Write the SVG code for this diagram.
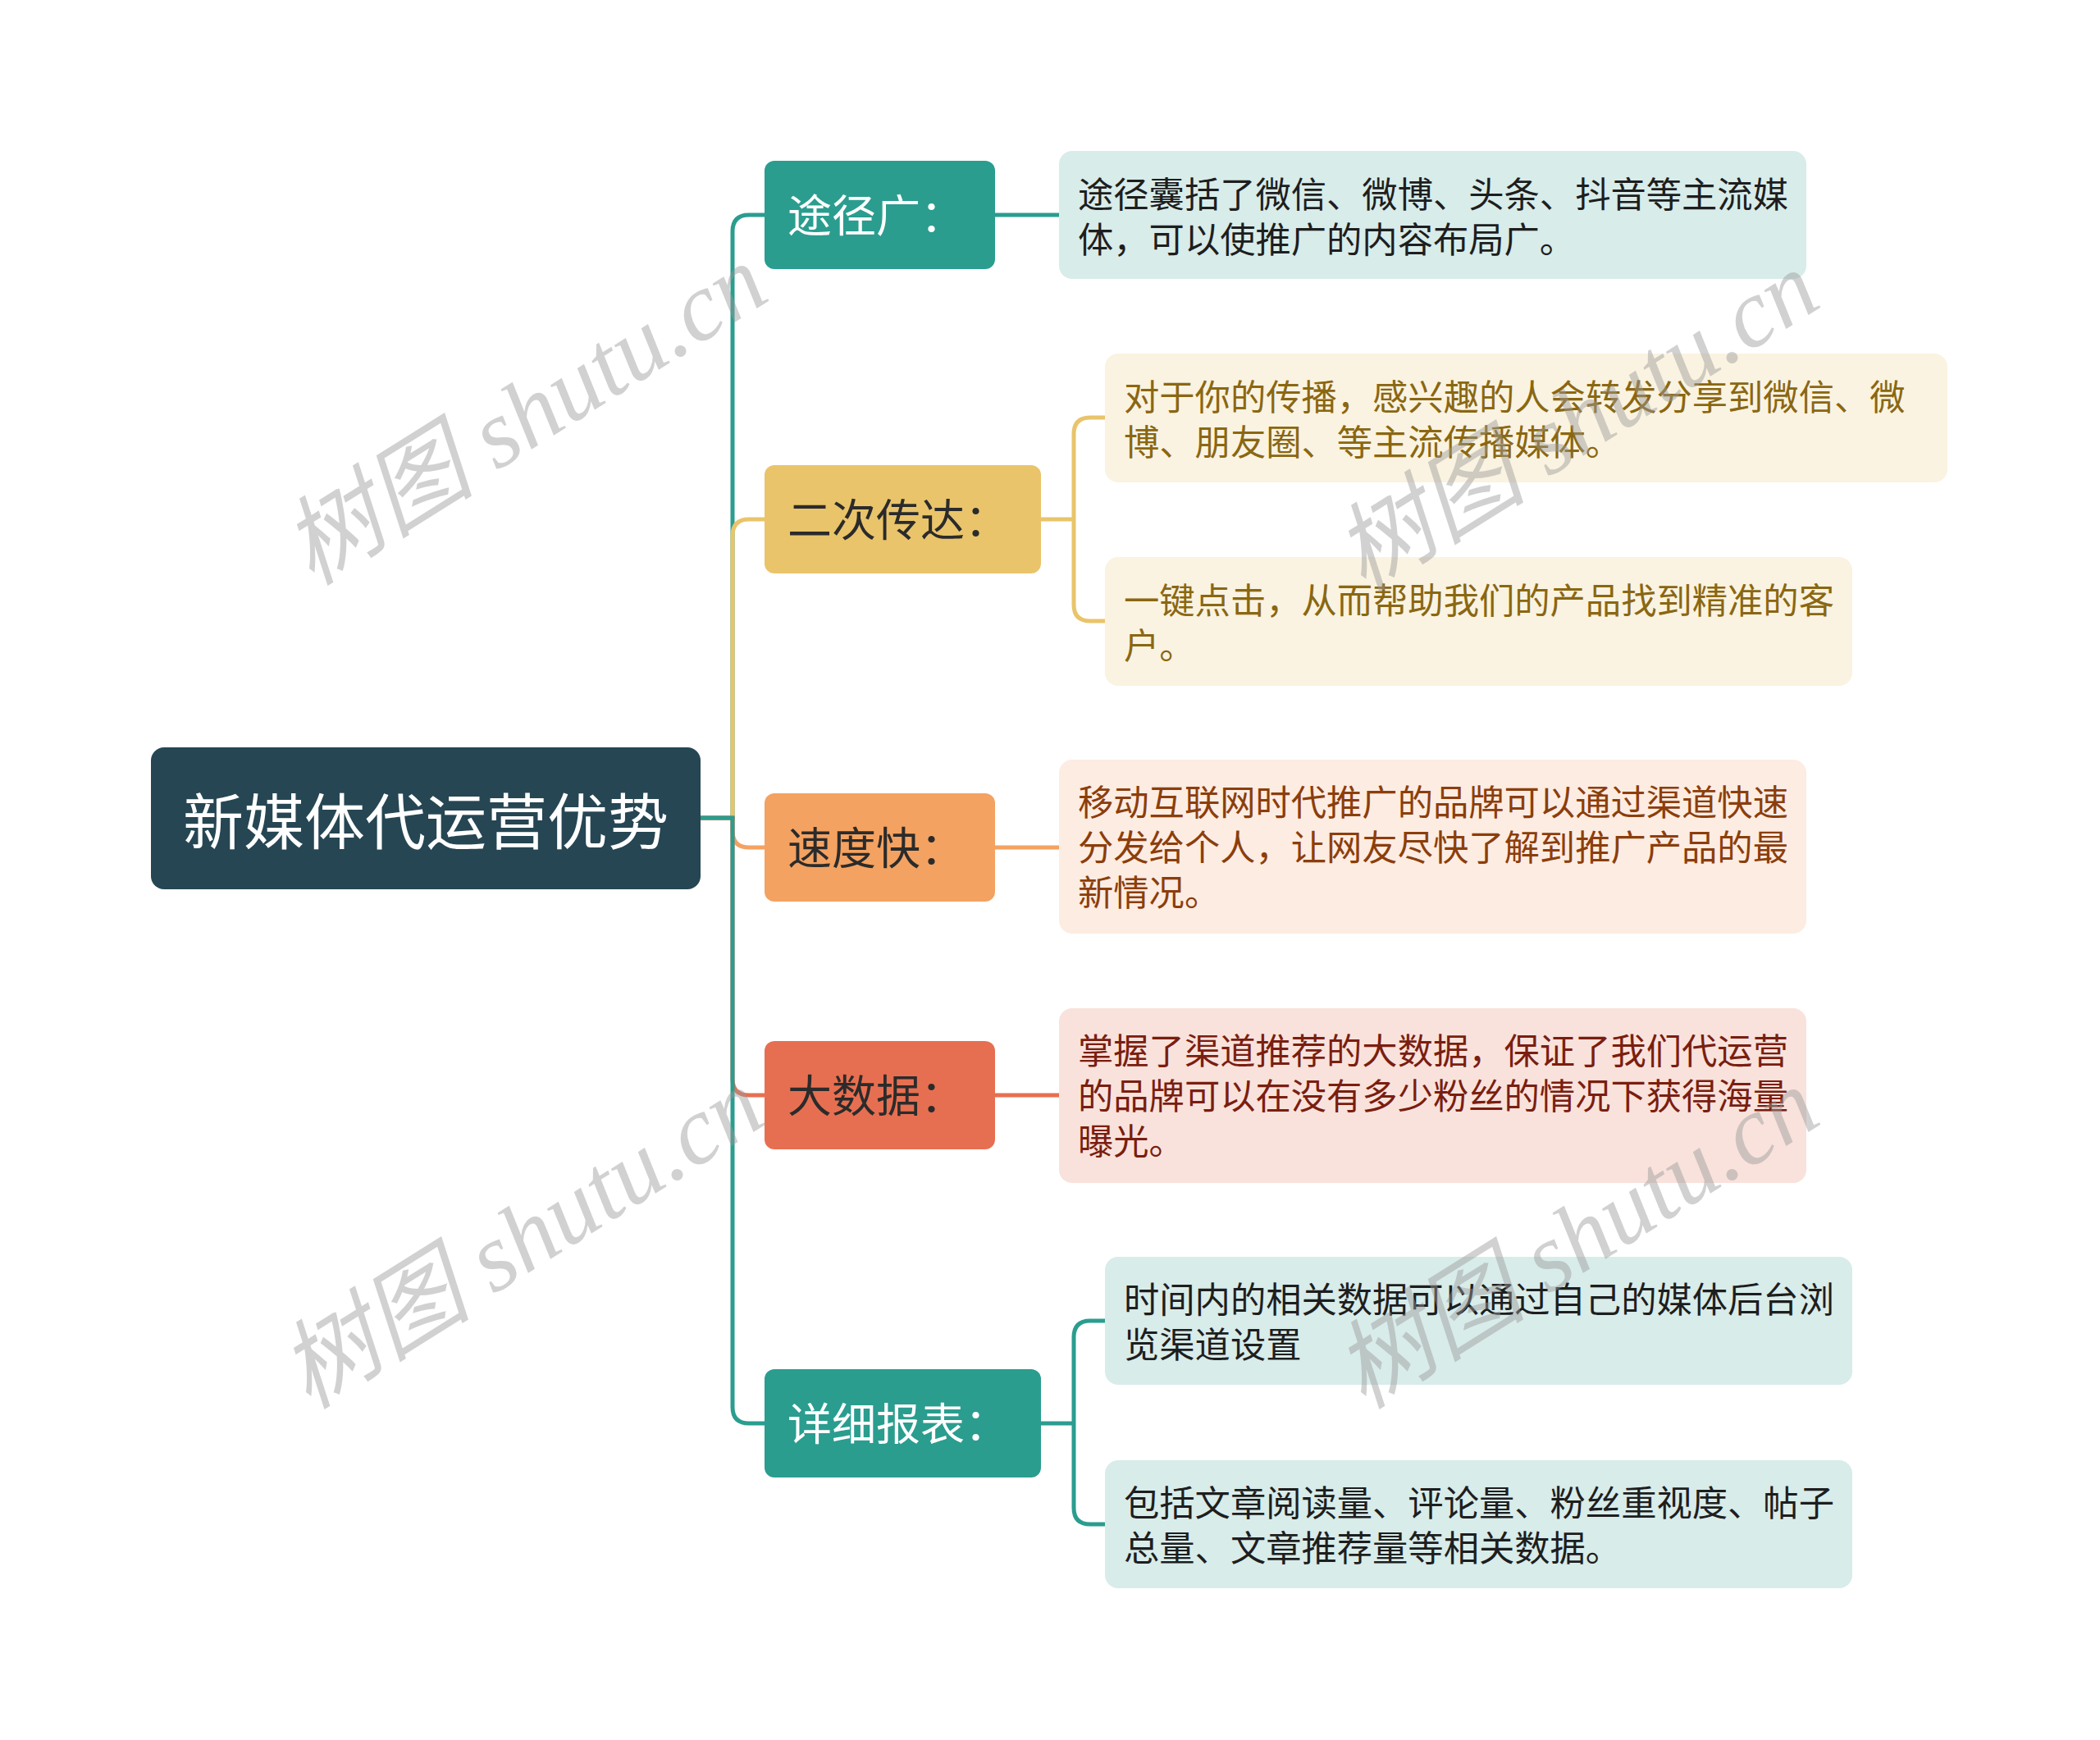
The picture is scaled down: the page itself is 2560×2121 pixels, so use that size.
<svg xmlns="http://www.w3.org/2000/svg" width="2560" height="2121" viewBox="0 0 2560 2121">
<style>
.t{font-family:"Noto Sans CJK SC","Noto Sans",sans-serif;}
.root{font-size:74px;fill:#ffffff;}
.br{font-size:54px;}
.lf{font-size:43.3px;}
.c{fill:none;stroke-width:5;stroke-linecap:round;}
.wm{font-family:"Liberation Serif","Noto Sans CJK SC",serif;font-style:italic;font-size:118px;fill:#9a9a9a;opacity:0.45;}
</style>
<rect width="2560" height="2121" fill="#ffffff"/>
<g id="connectors">
<path class="c" stroke="#2a9d8f" d="M854,997 H893 V282 Q893,262 913,262 H932"/>
<path class="c" stroke="#e9c46a" d="M854,997 H893 V653 Q893,633 913,633 H932"/>
<path class="c" stroke="#f4a261" d="M854,997 H893 V1013 Q893,1033 913,1033 H932"/>
<path class="c" stroke="#e76f51" d="M854,997 H893 V1315 Q893,1335 913,1335 H932"/>
<path class="c" stroke="#2a9d8f" d="M854,997 H893 V1715 Q893,1735 913,1735 H932"/>
<path class="c" stroke="#2a9d8f" d="M1213,262 H1291"/>
<path class="c" stroke="#e9c46a" d="M1269,633 H1309 M1309,633 V529 Q1309,509 1329,509 H1347 M1309,633 V737 Q1309,757 1329,757 H1347"/>
<path class="c" stroke="#f4a261" d="M1213,1033 H1291"/>
<path class="c" stroke="#e76f51" d="M1213,1335 H1291"/>
<path class="c" stroke="#2a9d8f" d="M1269,1735 H1309 M1309,1735 V1630 Q1309,1610 1329,1610 H1347 M1309,1735 V1838 Q1309,1858 1329,1858 H1347"/>
</g>
<g id="root">
<rect x="184" y="911" width="670" height="173" rx="16" fill="#264653"/>
<text class="t root" x="519" y="996" text-anchor="middle" dominant-baseline="central">新媒体代运营优势</text>
</g>
<g id="b1">
<rect x="932" y="196" width="281" height="132" rx="12" fill="#2a9d8f"/>
<text class="t br" x="960" y="259" dominant-baseline="central" fill="#ffffff">途径广：</text>
</g>
<g id="l1">
<rect x="1291" y="184" width="911" height="156" rx="16" fill="#d8ecea"/>
<text class="t lf" fill="#1e1e1e"><tspan x="1314" y="234" dominant-baseline="central">途径囊括了微信、微博、头条、抖音等主流媒</tspan><tspan x="1314" y="289" dominant-baseline="central">体，可以使推广的内容布局广。</tspan></text>
</g>
<g id="b2">
<rect x="932" y="567" width="337" height="132" rx="12" fill="#e9c46a"/>
<text class="t br" x="960" y="630" dominant-baseline="central" fill="#2b2b2b">二次传达：</text>
</g>
<g id="l2a">
<rect x="1347" y="431" width="1027" height="157" rx="16" fill="#faf3e1"/>
<text class="t lf" fill="#8a6712"><tspan x="1370" y="481" dominant-baseline="central">对于你的传播，感兴趣的人会转发分享到微信、微</tspan><tspan x="1370" y="536" dominant-baseline="central">博、朋友圈、等主流传播媒体。</tspan></text>
</g>
<g id="l2b">
<rect x="1347" y="679" width="911" height="157" rx="16" fill="#faf3e1"/>
<text class="t lf" fill="#8a6712"><tspan x="1370" y="729" dominant-baseline="central">一键点击，从而帮助我们的产品找到精准的客</tspan><tspan x="1370" y="784" dominant-baseline="central">户。</tspan></text>
</g>
<g id="b3">
<rect x="932" y="967" width="281" height="132" rx="12" fill="#f4a261"/>
<text class="t br" x="960" y="1030" dominant-baseline="central" fill="#2b2b2b">速度快：</text>
</g>
<g id="l3">
<rect x="1291" y="926" width="911" height="212" rx="16" fill="#fdece2"/>
<text class="t lf" fill="#8b3e0c"><tspan x="1314" y="975" dominant-baseline="central">移动互联网时代推广的品牌可以通过渠道快速</tspan><tspan x="1314" y="1030" dominant-baseline="central">分发给个人，让网友尽快了解到推广产品的最</tspan><tspan x="1314" y="1085" dominant-baseline="central">新情况。</tspan></text>
</g>
<g id="b4">
<rect x="932" y="1269" width="281" height="132" rx="12" fill="#e76f51"/>
<text class="t br" x="960" y="1332" dominant-baseline="central" fill="#2b2b2b">大数据：</text>
</g>
<g id="l4">
<rect x="1291" y="1229" width="911" height="213" rx="16" fill="#f9e2dc"/>
<text class="t lf" fill="#7a1e10"><tspan x="1314" y="1278" dominant-baseline="central">掌握了渠道推荐的大数据，保证了我们代运营</tspan><tspan x="1314" y="1333" dominant-baseline="central">的品牌可以在没有多少粉丝的情况下获得海量</tspan><tspan x="1314" y="1388" dominant-baseline="central">曝光。</tspan></text>
</g>
<g id="b5">
<rect x="932" y="1669" width="337" height="132" rx="12" fill="#2a9d8f"/>
<text class="t br" x="960" y="1732" dominant-baseline="central" fill="#ffffff">详细报表：</text>
</g>
<g id="l5a">
<rect x="1347" y="1532" width="911" height="156" rx="16" fill="#d8ecea"/>
<text class="t lf" fill="#1e1e1e"><tspan x="1370" y="1581" dominant-baseline="central">时间内的相关数据可以通过自己的媒体后台浏</tspan><tspan x="1370" y="1636" dominant-baseline="central">览渠道设置</tspan></text>
</g>
<g id="l5b">
<rect x="1347" y="1780" width="911" height="156" rx="16" fill="#d8ecea"/>
<text class="t lf" fill="#1e1e1e"><tspan x="1370" y="1829" dominant-baseline="central">包括文章阅读量、评论量、粉丝重视度、帖子</tspan><tspan x="1370" y="1884" dominant-baseline="central">总量、文章推荐量等相关数据。</tspan></text>
</g>
<g id="watermarks">
<text class="wm" transform="translate(640,506) rotate(-32)" text-anchor="middle" dominant-baseline="central">树图 shutu.cn</text>
<text class="wm" transform="translate(1922,514) rotate(-32)" text-anchor="middle" dominant-baseline="central">树图 shutu.cn</text>
<text class="wm" transform="translate(636,1510) rotate(-32)" text-anchor="middle" dominant-baseline="central">树图 shutu.cn</text>
<text class="wm" transform="translate(1922,1510) rotate(-32)" text-anchor="middle" dominant-baseline="central">树图 shutu.cn</text>
</g>
</svg>
